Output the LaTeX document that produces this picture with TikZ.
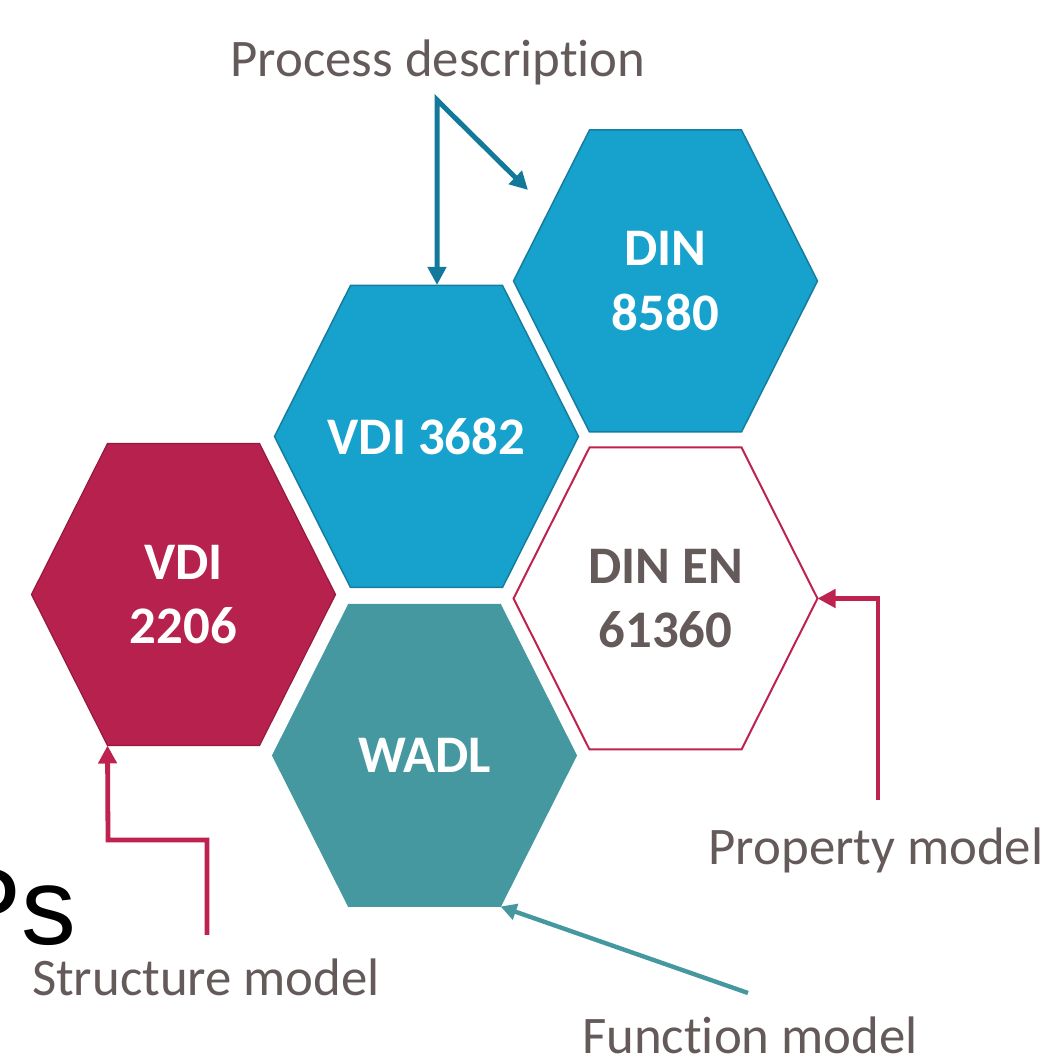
\documentclass[tikz,border=0pt]{standalone}
\usepackage[x11names, rgb]{xcolor}
\usepackage{fontspec}
\setmainfont{Carlito}[Ligatures=NoCommon]
\setsansfont{Liberation Sans}
\usepackage{tikz}
\usetikzlibrary{arrows.meta,shapes}

\definecolor{bluefill}{RGB}{23,161,205}
\definecolor{blueline}{RGB}{22,125,158}
\definecolor{bluearrow}{RGB}{19,121,154}
\definecolor{redfill}{RGB}{183,33,77}
\definecolor{redline}{RGB}{150,25,62}
\definecolor{redarrow}{RGB}{190,35,80}
\definecolor{tealfill}{RGB}{70,152,160}
\definecolor{labelgray}{RGB}{101,90,90}

% one cell of the honeycomb, corners named <name>-nw ... <name>-w
\newcommand{\hexcell}[3]{%
  \draw[#3, shift={#2}] (-38bp,75.5bp) coordinate (#1-nw) -- (38bp,75.5bp) coordinate (#1-ne)
    -- (76bp,0bp) coordinate (#1-e) -- (38bp,-75.5bp) coordinate (#1-se)
    -- (-38bp,-75.5bp) coordinate (#1-sw) -- (-76bp,0bp) coordinate (#1-w) -- cycle;}

\tikzset{
  cellblue/.style={fill=bluefill, draw=blueline, line width=0.75bp},
  cellred/.style={fill=redfill, draw=redline, line width=0.6bp},
  cellwhite/.style={fill=white, draw=redarrow, line width=1bp},
  cellteal/.style={fill=tealfill, draw=tealfill, line width=0.5bp},
  hextext/.style={font=\fontsize{26.5}{32.5}\selectfont\bfseries, text=white, align=center, inner sep=0pt},
  caption/.style={font=\fontsize{26.5}{31}\selectfont, text=labelgray, anchor=base, inner sep=0pt},
}

\begin{document}
\begin{tikzpicture}[>={Triangle[length=9bp,width=9bp]},line join=miter]
\useasboundingbox (0bp,0bp) rectangle (524.5bp,530.5bp);
\clip (0bp,0bp) rectangle (524.5bp,530.5bp);
%% cells
\hexcell{h8580}{(332.75bp,390bp)}{cellblue}
\hexcell{h3682}{(213.25bp,312.25bp)}{cellblue}
\hexcell{h2206}{(91.75bp,233.25bp)}{cellred}
\hexcell{h61360}{(332.75bp,231.25bp)}{cellwhite}
\hexcell{hwadl}{(212.25bp,152.75bp)}{cellteal}
%% cell texts
\node (din8580) at (332.75bp,390bp) [hextext] {DIN\\8580};
\node (vdi3682) at (213.25bp,312.25bp) [hextext] {VDI 3682};
\node (vdi2206) at (91.75bp,233.25bp) [hextext] {VDI\\2206};
\node (dinen61360) at (332.75bp,231.25bp) [hextext, text=labelgray] {DIN EN\\61360};
\node (wadl) at (212.25bp,153bp) [hextext] {WADL};
%% captions
\node (process) at (219bp,492bp) [caption] {Process description};
\node (property) at (438bp,98bp) [caption] {Property model};
\node (structure) at (103bp,33bp) [caption] {Structure model};
\node (function) at (375bp,4bp) [caption] {Function model};
\node (ps) at (-26bp,58bp) [anchor=base west, inner sep=0pt, font=\sffamily\fontsize{55}{60}\selectfont] {Ps};
%% arrows
\coordinate (pdfork) at (218.5bp,480.5bp);
\coordinate (pdtip) at (218.5bp,388bp);
\coordinate (pdside) at (264bp,435.5bp);
\coordinate (pmfoot) at (439bp,130.5bp);
\coordinate (smfoot) at (103.5bp,63bp);
\coordinate (smbend) at (54bp,110.5bp);
\coordinate (fmfoot) at (374bp,34bp);
\draw [<->, bluearrow, line width=2.5bp] (pdtip) -- (pdfork) -- (pdside);
\draw [->, redarrow, line width=2.4bp] (pmfoot) |- (h61360-e);
\draw [->, redarrow, line width=2.4bp] (smfoot) |- (smbend) -- (h2206-sw);
\draw [->, tealfill, line width=2.2bp, >={Triangle[length=8bp,width=8bp]}] (fmfoot) -- (hwadl-se);
%
\end{tikzpicture}
\end{document}
